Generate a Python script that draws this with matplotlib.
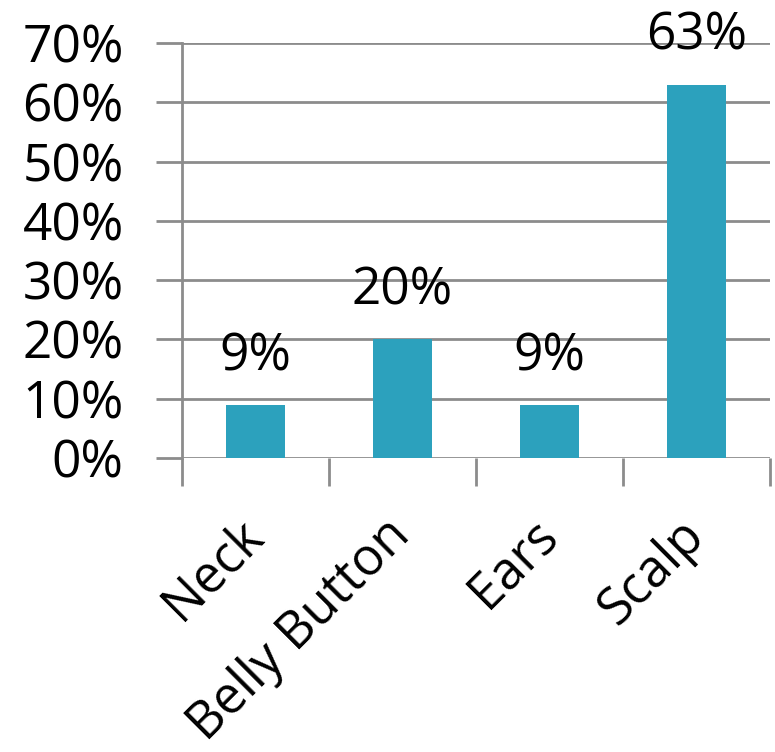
import matplotlib
matplotlib.use("Agg")
import matplotlib.pyplot as plt
from matplotlib.ticker import MultipleLocator, FuncFormatter, FixedLocator
from matplotlib.transforms import ScaledTranslation

categories = ["Neck", "Belly Button", "Ears", "Scalp"]
values = [9, 20, 9, 63]
labels = ["9%", "20%", "9%", "63%"]

plt.rcParams['font.family'] = ['Open Sans', 'DejaVu Sans']

fig = plt.figure(figsize=(7.75, 7.52), dpi=100)
ax = fig.add_axes([182/775, 1 - 458/752, (770-182)/775, (458-43)/752])

x = list(range(len(categories)))
ax.bar(x, values, width=0.4, color="#2ca1bd", zorder=3)
for xi, v, lab in zip(x, values, labels):
    ax.text(xi, v + 3.8, lab, ha="center", va="bottom", fontsize=37, color="black")

ax.set_xlim(-0.5, 3.5)
ax.set_ylim(0, 70)
ax.yaxis.set_major_locator(MultipleLocator(10))
ax.yaxis.set_major_formatter(FuncFormatter(lambda v, p: f"{int(v)}%"))
ax.grid(axis="y", color="#8c8c8c", linewidth=2, zorder=0)
ax.set_axisbelow(True)

for s in ["top", "right", "bottom"]:
    ax.spines[s].set_visible(False)
ax.spines["left"].set_color("#8c8c8c")
ax.spines["left"].set_linewidth(2)

ax.tick_params(axis="y", length=19, width=2, color="#8c8c8c", labelsize=37, pad=23)
ax.set_xticks(x)
ax.set_xticklabels(categories, rotation=45, ha="right", rotation_mode="anchor", fontsize=37)
ax.tick_params(axis="x", length=0, pad=20)
ax.xaxis.set_minor_locator(FixedLocator([-0.5, 0.5, 1.5, 2.5, 3.5]))
ax.tick_params(axis="x", which="minor", length=20, width=2, color="#8c8c8c")

offset = ScaledTranslation(-18/100, -24/100, fig.dpi_scale_trans)
for lbl in ax.get_xticklabels():
    lbl.set_transform(lbl.get_transform() + offset)

fig.savefig("out.png", dpi=100)
